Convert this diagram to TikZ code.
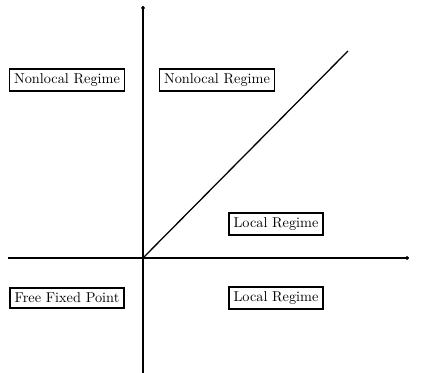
\documentclass[tikz,border=0pt]{standalone}
\usepackage{tikz}
\usetikzlibrary{arrows.meta}

\tikzset{
    regime/.style={draw, line width=1.1pt, inner sep=3.3pt, font=\normalsize},
    axis/.style={line width=0.9pt, -{To[length=2pt,width=3pt]}}
}

\begin{document}
\begin{tikzpicture}[x=0.7pt, y=0.7pt]
    \useasboundingbox (0,0) rectangle (422,373);

    % Axes
    \coordinate (origin) at (143,115);
    \coordinate (xstart) at (8,115);
    \coordinate (xend) at (409,115);
    \coordinate (ystart) at (143,0);
    \coordinate (yend) at (143,367);
    \coordinate (diag) at (348,322);
    \draw[axis] (xstart) -- (xend);
    \draw[axis] (ystart) -- (yend);

    % Boundary line
    \draw[line width=0.9pt] (origin) -- (diag);

    % Regions
    \node[regime] (nonlocalL) at (67,293) {Nonlocal Regime};
    \node[regime] (nonlocalR) at (217,293) {Nonlocal Regime};
    \node[regime] (localU) at (276,149) {Local Regime};
    \node[regime] (free) at (67,75) {Free Fixed Point};
    \node[regime] (localD) at (276,75) {Local Regime};
\end{tikzpicture}
\end{document}
